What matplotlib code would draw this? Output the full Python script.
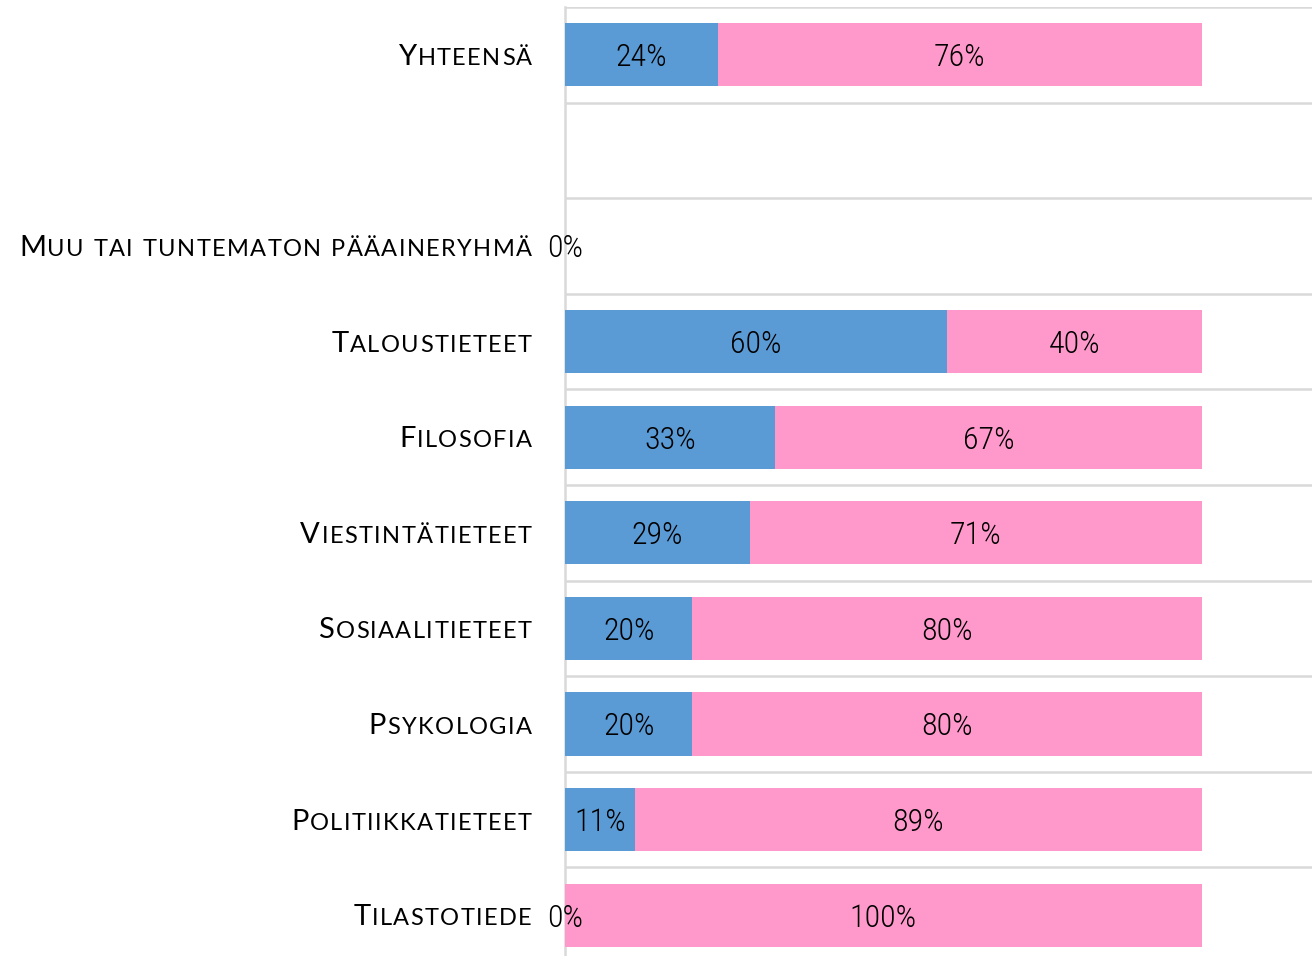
import matplotlib
matplotlib.use("Agg")
import matplotlib.pyplot as plt
from matplotlib import font_manager
from matplotlib.font_manager import FontProperties
from matplotlib.transforms import IdentityTransform

categories = ["Tilastotiede", "Politiikkatieteet", "Psykologia", "Sosiaalitieteet",
              "Viestintätieteet", "Filosofia", "Taloustieteet",
              "Muu tai tuntematon pääaineryhmä", "", "Yhteensä"]
blue_vals = [0, 11, 20, 20, 29, 33, 60, 0, None, 24]
pink_vals = [100, 89, 80, 80, 71, 67, 40, 0, None, 76]

BLUE = "#5B9BD5"
PINK = "#FF99CC"
GRID = "#D9D9D9"

names = {f.name for f in font_manager.fontManager.ttflist}
num_fp = None
for cand in ["Liberation Sans Narrow", "Roboto Condensed", "Open Sans Condensed"]:
    if cand in names:
        num_fp = FontProperties(family=cand, size=23, weight="light")
        break
if num_fp is None:
    num_fp = FontProperties(family="DejaVu Sans", stretch="condensed", size=21)
lab_font = "Lato" if "Lato" in names else "DejaVu Sans"

W, H = 1312, 956
fig = plt.figure(figsize=(W / 100, H / 100), dpi=100)
ax = fig.add_axes([565 / W, -7 / H, 747 / W, 1.0])

ys = list(range(len(categories)))
dy = 0.03
for y, b, p in zip(ys, blue_vals, pink_vals):
    if b is None:
        continue
    ax.barh(y, b, height=0.66, color=BLUE, edgecolor="none", zorder=3)
    ax.barh(y, p, left=b, height=0.66, color=PINK, edgecolor="none", zorder=3)
    ax.text(b / 2, y - dy, f"{b}%", ha="center", va="center",
            fontproperties=num_fp, color="black", zorder=5)
    if b + p > 0:
        ax.text(b + p / 2, y - dy, f"{p}%", ha="center", va="center",
                fontproperties=num_fp, color="black", zorder=5)

ax.set_xlim(0, 117.3)
ax.set_ylim(-0.5, len(categories) - 0.5)
for b in [i + 0.5 for i in range(-1, len(categories))]:
    ax.axhline(b, color=GRID, lw=1.8, zorder=1)
for s in ["top", "right", "bottom"]:
    ax.spines[s].set_visible(False)
ax.spines["left"].set_color(GRID)
ax.spines["left"].set_linewidth(1.8)
ax.set_xticks([])
ax.set_yticks([])

# small-caps category labels
renderer = fig.canvas.get_renderer()
big = FontProperties(family=lab_font, size=21)
small = FontProperties(family=lab_font, size=17)
track = 1.4
x_right = 532
for y, name in zip(ys, categories):
    if not name:
        continue
    chars = []
    for ch in name:
        if ch.isupper():
            chars.append((ch, big))
        else:
            chars.append((ch.upper(), small))
    widths = []
    for ch, fp in chars:
        if ch == " ":
            w, _, _ = renderer.get_text_width_height_descent("a", fp, ismath=False)
            w *= 0.6
        else:
            w, _, _ = renderer.get_text_width_height_descent(ch, fp, ismath=False)
        widths.append(w)
    total = sum(widths) + track * (len(chars) - 1)
    yd = ax.transData.transform((0, y))[1] - 10
    x = x_right - total
    for (ch, fp), w in zip(chars, widths):
        if ch != " ":
            fig.text(x, yd, ch, fontproperties=fp, transform=IdentityTransform(),
                     ha="left", va="baseline", color="black")
        x += w + track

fig.savefig("out.png", dpi=100)
